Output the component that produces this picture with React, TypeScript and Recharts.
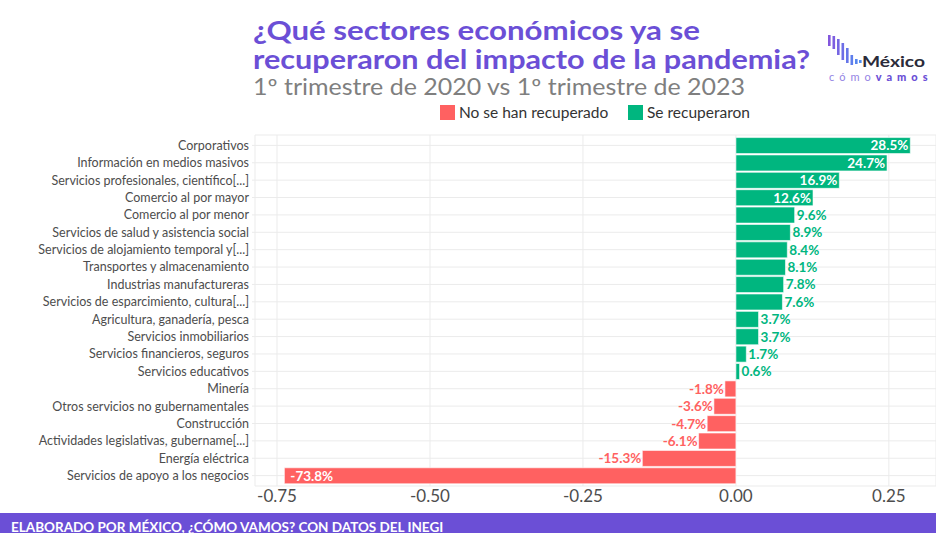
import React from "react";
import { BarChart, Bar, XAxis, YAxis, CartesianGrid, Cell, LabelList } from "recharts";

const categories = [
  "Corporativos",
  "Información en medios masivos",
  "Servicios profesionales, científico[...]",
  "Comercio al por mayor",
  "Comercio al por menor",
  "Servicios de salud y asistencia social",
  "Servicios de alojamiento temporal y[...]",
  "Transportes y almacenamiento",
  "Industrias manufactureras",
  "Servicios de esparcimiento, cultura[...]",
  "Agricultura, ganadería, pesca",
  "Servicios inmobiliarios",
  "Servicios financieros, seguros",
  "Servicios educativos",
  "Minería",
  "Otros servicios no gubernamentales",
  "Construcción",
  "Actividades legislativas, gubername[...]",
  "Energía eléctrica",
  "Servicios de apoyo a los negocios",
];

const values = [
  0.285, 0.247, 0.169, 0.126, 0.096, 0.089, 0.084, 0.081, 0.078, 0.076, 0.037, 0.037, 0.017, 0.006,
  -0.018, -0.036, -0.047, -0.061, -0.153, -0.738,
];

const xTicks = [-0.75, -0.5, -0.25, 0, 0.25];

const GREEN = "#00B67F";
const RED = "#FF6161";
const PURPLE = "#6B4FD6";
const FONT = "Lato, 'Open Sans', sans-serif";

const data = categories.map((c, i) => ({ name: c, value: values[i] }));

const BarLabel = (props: any) => {
  const { x, y, width, height, value } = props;
  const left = Math.min(x, x + width);
  const right = Math.max(x, x + width);
  const cy = y + height / 2;
  const txt = (value * 100).toFixed(1) + "%";
  let tx = 0;
  let anchor: "start" | "end" = "start";
  let fill = "#fff";
  if (value >= 0) {
    if (value > 0.1) {
      tx = right - 2;
      anchor = "end";
      fill = "#fff";
    } else {
      tx = right + 2;
      anchor = "start";
      fill = GREEN;
    }
  } else {
    if (value < -0.5) {
      tx = left + 6;
      anchor = "start";
      fill = "#fff";
    } else {
      tx = left - 1;
      anchor = "end";
      fill = RED;
    }
  }
  return (
    <text x={tx} y={cy} dy="0.36em" textAnchor={anchor} fill={fill} fontSize={13.5} fontWeight={700} fontFamily={FONT}>
      {txt}
    </text>
  );
};

const logoBars = [
  { x: 828, y1: 35, y2: 46, c: "#8357DD" },
  { x: 832.5, y1: 36, y2: 49, c: "#7D5EE0" },
  { x: 837, y1: 39, y2: 55, c: "#7666E3" },
  { x: 841.5, y1: 43, y2: 60, c: "#6E6EE6" },
  { x: 846, y1: 48, y2: 63, c: "#6676E9" },
  { x: 850.5, y1: 55, y2: 65, c: "#5E7EEC" },
  { x: 855, y1: 59, y2: 64, c: "#5686EE" },
  { x: 859, y1: 60, y2: 63, c: "#4E8EF0" },
];

export default function App() {
  return (
    <div style={{ position: "absolute", left: 0, top: 0, width: 936, height: 533, background: "#fff", overflow: "hidden" }}>
      <svg width={936} height={533} style={{ position: "absolute", left: 0, top: 0 }}>
        <text x={253} y={40} fill={PURPLE} fontSize={27} fontWeight={700} fontFamily={FONT} textLength={447} lengthAdjust="spacingAndGlyphs">
          ¿Qué sectores económicos ya se
        </text>
        <text x={253} y={69} fill={PURPLE} fontSize={27} fontWeight={700} fontFamily={FONT} textLength={557} lengthAdjust="spacingAndGlyphs">
          recuperaron del impacto de la pandemia?
        </text>
        <text x={253} y={95} fill="#7f7f7f" fontSize={22.5} fontWeight={400} fontFamily={FONT} textLength={492} lengthAdjust="spacingAndGlyphs">
          1º trimestre de 2020 vs 1º trimestre de 2023
        </text>
        <rect x={440} y={105} width={15} height={15} fill={RED} />
        <text x={459} y={118} fill="#333" fontSize={15.5} fontFamily={FONT}>No se han recuperado</text>
        <rect x={628} y={105} width={15} height={15} fill={GREEN} />
        <text x={647} y={118} fill="#333" fontSize={15.5} fontFamily={FONT}>Se recuperaron</text>
        {logoBars.map((b, i) => (
          <rect key={i} x={b.x} y={b.y1} width={2.6} height={b.y2 - b.y1} fill={b.c} />
        ))}
        <text x={862} y={67} fill="#2b2b3a" fontSize={16} fontWeight={700} fontFamily={FONT} textLength={63} lengthAdjust="spacingAndGlyphs">México</text>
        <text x={829} y={81} fontSize={11} fontFamily={FONT} letterSpacing={5}>
          <tspan fill="#9485E4" fontWeight={400}>cómo</tspan>
          <tspan fill={PURPLE} fontWeight={900}>vamos</tspan>
        </text>
        <rect x={0} y={513} width={936} height={20} fill={PURPLE} />
        <text x={11} y={532} fill="#fff" fontSize={13.5} fontWeight={700} fontFamily={FONT}>
          ELABORADO POR MÉXICO, ¿CÓMO VAMOS? CON DATOS DEL INEGI
        </text>
      </svg>
      <div style={{ position: "absolute", left: 0, top: 0 }}>
        <BarChart
          width={936}
          height={533}
          data={data}
          layout="vertical"
          margin={{ top: 135, right: 0, bottom: 0, left: 0 }}
          barCategoryGap="5%"
        >
          <CartesianGrid stroke="#ebebeb" strokeWidth={1} />
          <XAxis
            type="number"
            domain={[-0.786, 0.327]}
            ticks={xTicks}
            allowDataOverflow
            tickFormatter={(v: number) => v.toFixed(2)}
            axisLine={false}
            tickLine={false}
            tickSize={0}
            tickMargin={4}
            tick={{ fill: "#4d4d4d", fontSize: 17, fontFamily: FONT }}
            height={47}
          />
          <YAxis
            type="category"
            dataKey="name"
            width={255}
            axisLine={false}
            tickLine={{ stroke: "#ebebeb" }}
            tickSize={3}
            tickMargin={3}
            interval={0}
            padding={{ top: 1.7, bottom: 1.7 }}
            tick={{ fill: "#4d4d4d", fontSize: 12.5, fontFamily: FONT }}
          />
          <Bar dataKey="value" isAnimationActive={false} stroke="#ffffff" strokeWidth={0.6}>
            {data.map((d, i) => (
              <Cell key={i} fill={d.value >= 0 ? GREEN : RED} />
            ))}
            <LabelList dataKey="value" content={BarLabel} />
          </Bar>
        </BarChart>
      </div>
    </div>
  );
}
